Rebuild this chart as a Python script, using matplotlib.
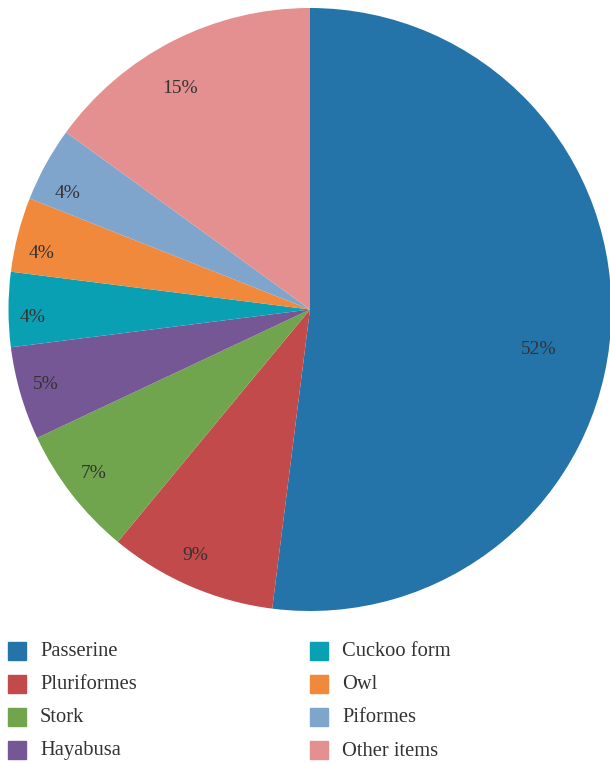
import numpy as np
import matplotlib
matplotlib.use("Agg")
import matplotlib.pyplot as plt
from matplotlib.patches import Rectangle

# data
categories = ["Passerine", "Pluriformes", "Stork", "Hayabusa",
              "Cuckoo form", "Owl", "Piformes", "Other items"]
shares = [52, 9, 7, 5, 4, 4, 4, 15]
colors = ["#2474aa", "#c34a4a", "#70a54e", "#765795",
          "#0aa0b3", "#f1893d", "#7fa5cd", "#e49090"]
# percent label placement: fraction of radius, angle nudge in degrees
label_dist = [0.77, 0.9, 0.9, 0.91, 0.92, 0.91, 0.89, 0.85]
label_nudge = [-6.4, -1.5, -0.5, -0.4, 1.7, 2.6, 3.2, 3.4]

plt.rcParams["font.family"] = ["Liberation Serif", "DejaVu Serif"]

fig = plt.figure(figsize=(6.10, 7.63), dpi=100)
ax = fig.add_axes([8.5 / 610, (763 - 611) / 763, 603 / 610, 603 / 763])

wedges, _ = ax.pie(shares, colors=colors, startangle=90, counterclock=False,
                   radius=1, wedgeprops=dict(linewidth=0))
ax.set_xlim(-1, 1)
ax.set_ylim(-1, 1)
ax.set_aspect("equal")
ax.axis("off")

for w, s, d, n in zip(wedges, shares, label_dist, label_nudge):
    ang = np.deg2rad((w.theta1 + w.theta2) / 2 + n)
    ax.text(d * np.cos(ang), d * np.sin(ang), f"{s}%", ha="center", va="center",
            fontsize=14, color="#333333")

# legend, two columns of four
H, W = 763, 610
rows_y = [650.5, 683.5, 716.5, 750]
for i, (name, c) in enumerate(zip(categories, colors)):
    col, row = divmod(i, 4)
    x0 = 8 if col == 0 else 310
    y = rows_y[row]
    fig.patches.append(Rectangle((x0 / W, 1 - (y + 9) / H), 18 / W, 18 / H,
                                 transform=fig.transFigure, color=c))
    fig.text((x0 + 32) / W, 1 - (y + 1) / H, name, ha="left", va="center",
             fontsize=14.8, color="#333333")

fig.savefig("out.png", dpi=100)
